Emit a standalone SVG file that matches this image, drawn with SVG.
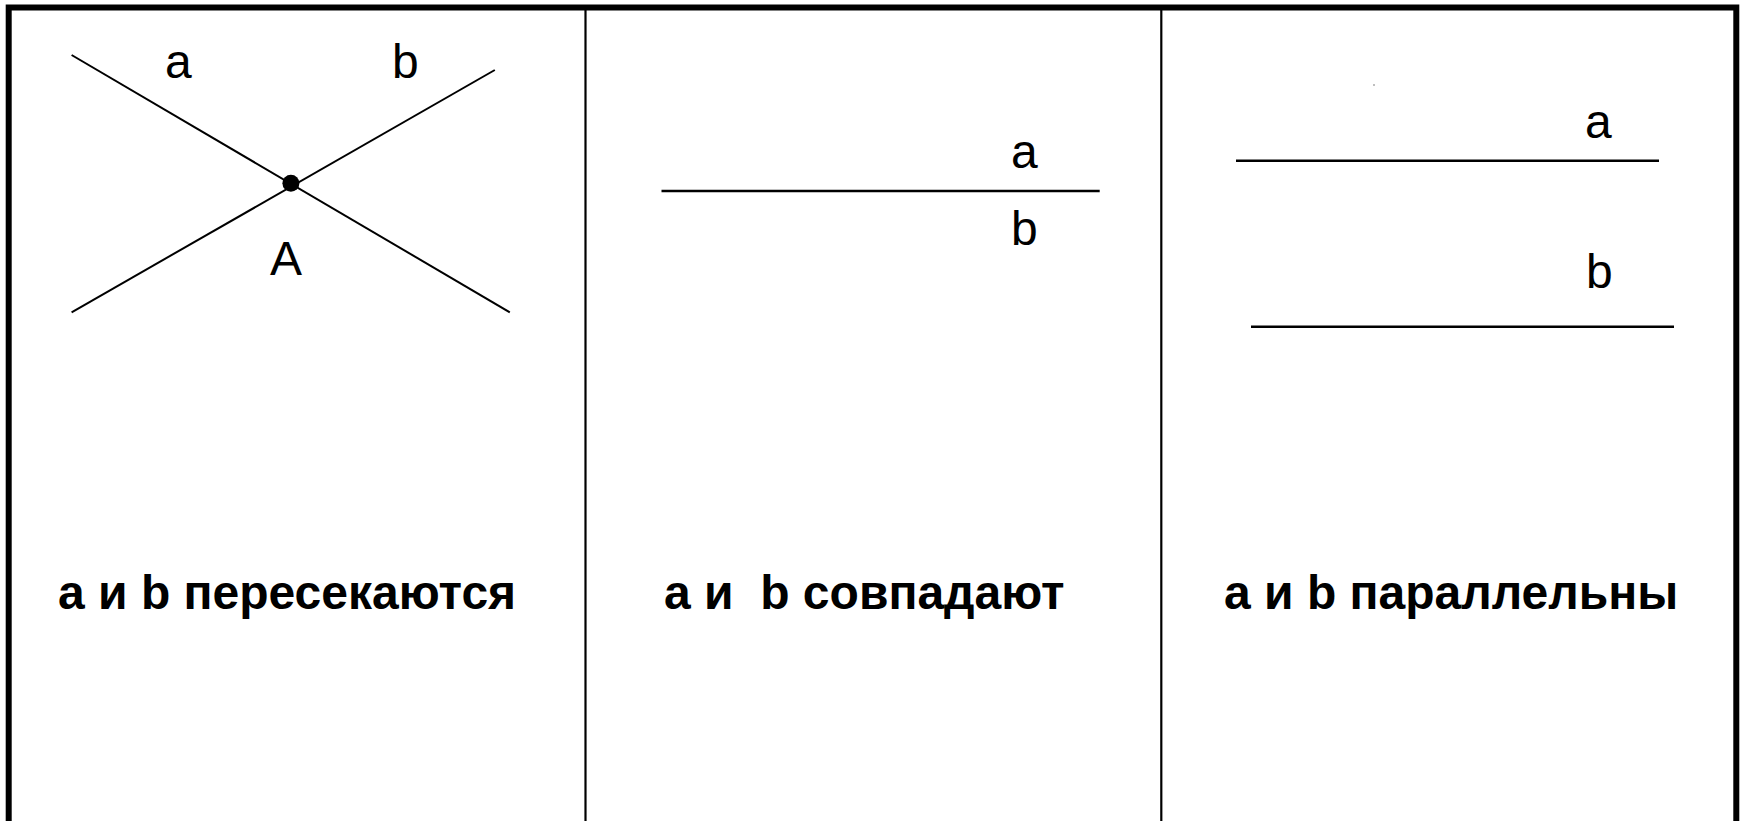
<svg xmlns="http://www.w3.org/2000/svg" width="1743" height="821" viewBox="0 0 1743 821">
<style>
.lbl{font-family:"Liberation Sans",Arial,sans-serif;font-size:48px;fill:#000}
.cap{font-family:"Liberation Sans",Arial,sans-serif;font-size:48px;font-weight:bold;fill:#000;white-space:pre}
.ln{stroke:#000;stroke-width:2;fill:none}
.ln3{stroke:#000;stroke-width:2.6;fill:none}
</style>
<rect x="0" y="0" width="1743" height="821" fill="#fff"/>
<g id="frame">
<path d="M8.7,830 V7.5 H1736.3 V830" fill="none" stroke="#000" stroke-width="6"/>
<line x1="585.5" y1="10" x2="585.5" y2="821" stroke="#000" stroke-width="2.2"/>
<line x1="1161.3" y1="10" x2="1161.3" y2="821" stroke="#000" stroke-width="2.2"/>
</g>
<g id="panel1">
<line class="ln" x1="71.6" y1="55" x2="509.8" y2="312.3"/>
<line class="ln" x1="71.6" y1="312.3" x2="494.8" y2="70"/>
<circle cx="290.9" cy="183.3" r="8.5" fill="#000"/>
<text class="lbl" x="165" y="78.3">a</text>
<text class="lbl" x="392" y="78.3">b</text>
<text class="lbl" x="270" y="275">A</text>
<text class="cap" x="58" y="609">a и b пересекаются</text>
</g>
<g id="panel2">
<line class="ln3" x1="661.5" y1="191" x2="1099.7" y2="191"/>
<text class="lbl" x="1011" y="168">a</text>
<text class="lbl" x="1011" y="245">b</text>
<text class="cap" x="664" y="609" xml:space="preserve">a и  b совпадают</text>
</g>
<g id="panel3">
<rect x="1373.5" y="84.5" width="1" height="1" fill="#000"/>
<line class="ln3" x1="1236" y1="160.7" x2="1659" y2="160.7"/>
<line class="ln3" x1="1251" y1="326.7" x2="1674" y2="326.7"/>
<text class="lbl" x="1585" y="138.3">a</text>
<text class="lbl" x="1586" y="288.3">b</text>
<text class="cap" x="1224" y="609">a и b параллельны</text>
</g>
</svg>
